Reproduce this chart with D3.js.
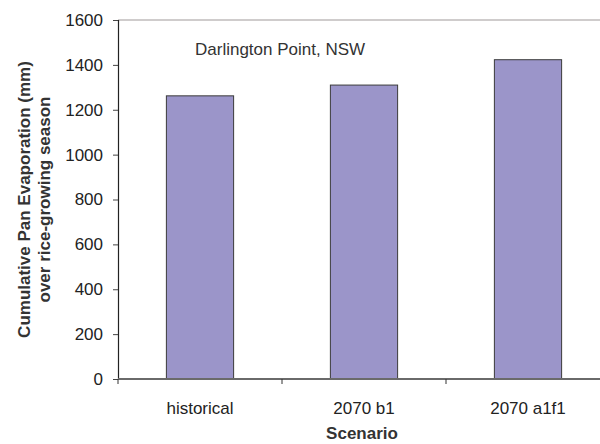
<!DOCTYPE html>
<html>
<head>
<meta charset="utf-8">
<script src="https://cdn.jsdelivr.net/npm/d3@7"></script>
<style>
  html, body { margin: 0; padding: 0; background: #fff; }
  svg text { font-family: "Liberation Sans", Arial, sans-serif; fill: #222; }
</style>
</head>
<body>
<div id="chart"></div>
<script>
// Scenario data (mm over rice-growing season)
const scenarios = ["historical", "2070 b1", "2070 a1f1"];
const evaporation = [1262, 1310, 1423];
const yTicks = [0, 200, 400, 600, 800, 1000, 1200, 1400, 1600];
const siteLabel = "Darlington Point, NSW";

const W = 600, H = 444;
const margin = { top: 20, right: -10, bottom: 65, left: 118 };
const width = W - margin.left - margin.right;
const height = H - margin.top - margin.bottom;

const svg = d3.select("#chart").append("svg")
    .attr("width", W)
    .attr("height", H)
    .append("g")
    .attr("transform", `translate(${margin.left},${margin.top})`);

const x = d3.scaleBand()
    .domain(scenarios)
    .range([0, width])
    .paddingInner(0.59)
    .paddingOuter(0.295);

const band = d3.scaleBand().domain(scenarios).range([0, width]);

const y = d3.scaleLinear()
    .domain([0, 1600])
    .range([height, 0]);

// plot frame top line
svg.append("line")
    .attr("x1", 0).attr("x2", width)
    .attr("y1", 0).attr("y2", 0)
    .attr("stroke", "#a09a9a")
    .attr("stroke-width", 1.2);

// bars
svg.selectAll(".bar")
    .data(scenarios)
    .join("rect")
    .attr("class", "bar")
    .attr("x", d => x(d))
    .attr("width", x.bandwidth())
    .attr("y", (d, i) => y(evaporation[i]))
    .attr("height", (d, i) => height - y(evaporation[i]))
    .attr("fill", "#9b95c9")
    .attr("stroke", "#3a3a3a")
    .attr("stroke-width", 1);

// y axis
const yAxis = svg.append("g")
    .call(d3.axisLeft(y).tickValues(yTicks).tickFormat(d3.format("d")).tickSize(5).tickPadding(10));
yAxis.select(".domain").attr("stroke", "#222").attr("stroke-width", 1.2);
yAxis.selectAll(".tick line").attr("stroke", "#444");
yAxis.selectAll("text")
    .attr("font-size", "17px")
    .style("fill", "#222");

// x axis: ticks at category boundaries
const xAxis = svg.append("g")
    .attr("transform", `translate(0,${height})`);
xAxis.append("line")
    .attr("x1", 0).attr("x2", width)
    .attr("stroke", "#6a6a6a").attr("stroke-width", 2);
xAxis.selectAll(".xtick")
    .data(scenarios)
    .join("line")
    .attr("x1", d => band(d)).attr("x2", d => band(d))
    .attr("y1", 0).attr("y2", 5)
    .attr("stroke", "#333");
xAxis.selectAll(".xlabel")
    .data(scenarios)
    .join("text")
    .attr("x", d => band(d) + band.bandwidth() / 2)
    .attr("y", 35)
    .attr("text-anchor", "middle")
    .attr("font-size", "17px")
    .text(d => d);

// x axis title
svg.append("text")
    .attr("x", width / 2 - 2)
    .attr("y", height + 60)
    .attr("text-anchor", "middle")
    .attr("font-size", "17px")
    .attr("font-weight", "bold")
    .style("fill", "#333")
    .text("Scenario");

// y axis title (two lines)
const yTitle = svg.append("text")
    .attr("transform", `translate(-88,${height / 2}) rotate(-90)`)
    .attr("text-anchor", "middle")
    .attr("font-size", "17px")
    .attr("font-weight", "bold")
    .style("fill", "#333");
yTitle.append("tspan").attr("x", 0).attr("dy", 0).text("Cumulative Pan Evaporation (mm)");
yTitle.append("tspan").attr("x", 0).attr("dy", 20).text("over rice-growing season");

// site label
svg.append("text")
    .attr("x", 77)
    .attr("y", 35)
    .attr("font-size", "17px")
    .style("fill", "#333")
    .text(siteLabel);
</script>
</body>
</html>
